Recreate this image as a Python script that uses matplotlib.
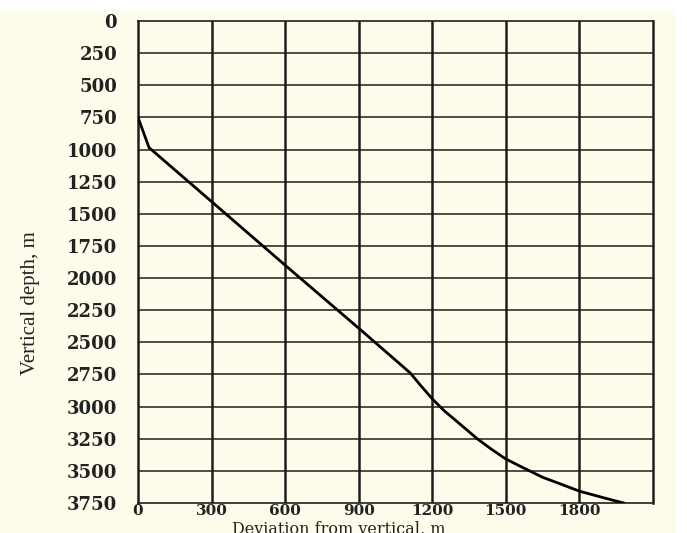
"""
Directional well profile: vertical depth vs. horizontal deviation.
"""

import matplotlib
matplotlib.use('Agg')
import matplotlib.pyplot as plt
import matplotlib.patches as mpatches

# Well trajectory
deviation = [0, 45, 300, 600, 900, 1110, 1150, 1200, 1250, 1300, 1384,
             1440, 1500, 1570, 1650, 1720, 1800, 1900, 1980]
depth = [750, 985, 1405, 1900, 2390, 2738, 2830, 2940, 3035, 3115, 3251,
         3330, 3408, 3475, 3550, 3600, 3658, 3710, 3750]

x_ticks = [0, 300, 600, 900, 1200, 1500, 1800]
y_ticks = [0, 250, 500, 750, 1000, 1250, 1500, 1750, 2000, 2250,
           2500, 2750, 3000, 3250, 3500, 3750]

cream = '#FDFBEA'
ink = '#1E1E1E'

fig = plt.figure(figsize=(6.87, 5.33), dpi=100, facecolor='white')
# cream page behind the chart (white strip on top and right)
fig.patches.append(mpatches.Rectangle((0, 0), 676 / 687, 1 - 9 / 533,
                                      transform=fig.transFigure,
                                      facecolor=cream, edgecolor='none', zorder=-5))

ax = fig.add_axes([138 / 687, 1 - 503 / 533, (653 - 138) / 687, (503 - 21) / 533])
ax.set_facecolor(cream)
ax.set_xlim(0, 2100)
ax.set_ylim(3750, 0)

# grid: heavier verticals, lighter horizontals
for xv in x_ticks[1:]:
    ax.axvline(xv, color=ink, lw=1.8, zorder=1)
for yv in y_ticks[1:-1]:
    ax.axhline(yv, color=ink, lw=1.1, zorder=1)

ax.plot(deviation, depth, color='black', lw=2.0, zorder=3,
        solid_joinstyle='round')

for side, sp in ax.spines.items():
    sp.set_color(ink)
    sp.set_linewidth(1.8 if side in ('left', 'right') else 1.2)

ax.set_xticks(x_ticks)
ax.set_xticklabels([str(v) for v in x_ticks], family='DejaVu Serif',
                   weight='bold', size=11)
ax.set_yticks(y_ticks)
ax.set_yticklabels([str(v) for v in y_ticks], family='DejaVu Serif',
                   weight='bold', size=13)
ax.tick_params(axis='both', length=0, colors='#222222')
ax.tick_params(axis='y', pad=15)
ax.tick_params(axis='x', pad=1)

ax.set_ylabel('Vertical depth, m', family='Liberation Serif', size=15,
              color='#222222')
ax.yaxis.set_label_coords(-0.19, 0.415)

# x label sits tight under the tick labels, as in the reference
ax.text(0.39, -0.036, 'Deviation from vertical, m', transform=ax.transAxes,
        ha='center', va='top', family='DejaVu Serif', size=11.5,
        color='#222222')

fig.savefig('out.png', dpi=100, facecolor='white')
